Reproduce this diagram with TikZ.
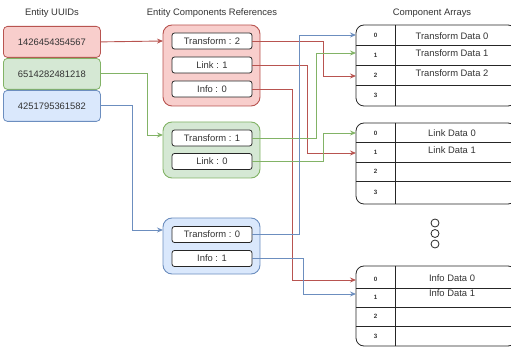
\documentclass[tikz,border=0pt]{standalone}
\usepackage{fontspec}
\setmainfont{Liberation Sans}
\usetikzlibrary{arrows.meta}

\definecolor{redfill}{HTML}{F8CECC}
\definecolor{redline}{HTML}{B85450}
\definecolor{greenfill}{HTML}{D5E8D4}
\definecolor{greenline}{HTML}{82B366}
\definecolor{bluefill}{HTML}{DAE8FC}
\definecolor{blueline}{HTML}{6C8EBF}
\definecolor{txt}{HTML}{333333}

\tikzset{
  x=1pt, y=-1pt,
  every node/.style={font=\fontsize{9.4}{11}\selectfont, text=txt, inner sep=0pt},
  title/.style={font=\fontsize{9.4}{11}\selectfont},
  uuid/.style={draw=#1line, fill=#1fill, line width=0.8pt, rounded corners=4pt,
    minimum width=97pt, minimum height=31pt, anchor=north west},
  holder/.style={draw=#1line, fill=#1fill, line width=0.9pt, rounded corners=9pt,
    anchor=north west},
  ref/.style={draw=black!85, fill=white, line width=0.8pt, rounded corners=2.5pt,
    minimum width=80pt, minimum height=16pt},
  idx/.style={font=\fontsize{6.2}{7}\bfseries\selectfont, minimum width=39pt},
  cell/.style={anchor=center},
  arr/.style={draw=black!85, line width=0.8pt, rounded corners=8pt},
  link/.style={draw=#1line, line width=0.9pt, -{Stealth[length=6pt,width=5pt]}},
  dot/.style={circle, draw=black!85, line width=0.8pt, minimum size=8pt},
}

\begin{document}
\begin{tikzpicture}
\useasboundingbox (0,0) rectangle (511,347);

% column headings
\node[title] (h1) at (52,13) {Entity UUIDs};
\node[title] (h2) at (212,13) {Entity Components References};
\node[title] (h3) at (432,13) {Component Arrays};

% entity identifiers
\node[uuid=red]   (u1) at (3,26) {1426454354567};
\node[uuid=green] (u2) at (3,58) {6514282481218};
\node[uuid=blue]  (u3) at (3,90) {4251795361582};

% component reference holders
\draw[holder=red]   (163,25)  rectangle (260,106);
\draw[holder=green] (163,122) rectangle (260,178);
\draw[holder=blue]  (163,218) rectangle (260,274);
\coordinate (e1) at (163,41);
\coordinate (e2) at (163,135);
\coordinate (e3) at (163,230);

\node[ref] (rT2) at (212,41)  {Transform : 2};
\node[ref] (rL1) at (212,65)  {Link : 1};
\node[ref] (rI0) at (212,89)  {Info : 0};
\node[ref] (gT1) at (212,138) {Transform : 1};
\node[ref] (gL0) at (212,161.5) {Link : 0};
\node[ref] (bT0) at (212,234.5) {Transform : 0};
\node[ref] (bI1) at (212,258.5) {Info : 1};

% component arrays
\draw[arr] (356,25) rectangle (516,106);
\draw[black!85, line width=0.8pt] (395,25) -- (395,106)
  (356,45) -- (511,45) (356,65) -- (511,65) (356,85) -- (511,85);
\node[idx] (ta0) at (375.5,35) {0};
\node[idx] (ta1) at (375.5,55) {1};
\node[idx] (ta2) at (375.5,75) {2};
\node[idx] (ta3) at (375.5,95.5) {3};
\node[cell] (td0) at (452,36) {Transform Data 0};
\node[cell] (td1) at (452,53) {Transform Data 1};
\node[cell] (td2) at (452,73) {Transform Data 2};

\draw[arr] (356,123) rectangle (516,204);
\draw[black!85, line width=0.8pt] (395,123) -- (395,204)
  (356,142) -- (511,142) (356,162) -- (511,162) (356,181) -- (511,181);
\node[idx] (la0) at (375.5,133) {0};
\node[idx] (la1) at (375.5,152) {1};
\node[idx] (la2) at (375.5,171.5) {2};
\node[idx] (la3) at (375.5,192.5) {3};
\node[cell] (ld0) at (452,133) {Link Data 0};
\node[cell] (ld1) at (452,150) {Link Data 1};

\node[dot] (d1) at (435,223) {};
\node[dot] (d2) at (435,233.5) {};
\node[dot] (d3) at (435,244) {};

\draw[arr] (356,266) rectangle (516,346);
\draw[black!85, line width=0.8pt] (395,266) -- (395,346)
  (356,288) -- (511,288) (356,307) -- (511,307) (356,326) -- (511,326);
\node[idx] (ia0) at (375.5,279) {0};
\node[idx] (ia1) at (375.5,297) {1};
\node[idx] (ia2) at (375.5,316.5) {2};
\node[idx] (ia3) at (375.5,336) {3};
\node[cell] (id0) at (452,278) {Info Data 0};
\node[cell] (id1) at (452,293) {Info Data 1};

% entity -> reference holder
\draw[link=red]   (u1.east) -- (e1);
\draw[link=green] (u2.east) -| (147,135) -- (e2);
\draw[link=blue]  (u3.east) -| (132,230) -- (e3);

% reference -> array slot
\draw[link=red]   (rT2.east) -| (323,76) -- (356,76);
\draw[link=red]   (rL1.east) -| (307,153) -- (356,153);
\draw[link=red]   (rI0.east) -| (292,280) -- (356,280);
\draw[link=green] (gT1.east) -| (316,53) -- (356,53);
\draw[link=green] (gL0.east) -| (323,133) -- (356,133);
\draw[link=blue]  (bT0.east) -| (299,35) -- (356,35);
\draw[link=blue]  (bI1.east) -| (303,294) -- (356,294);
\end{tikzpicture}
\end{document}
